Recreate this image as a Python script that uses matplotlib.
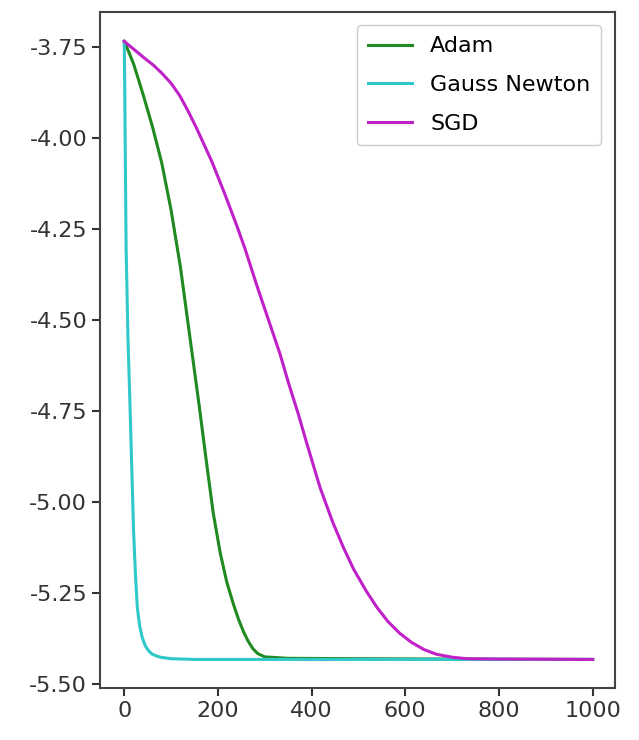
import matplotlib
matplotlib.use("Agg")
import matplotlib.pyplot as plt

# Data
adam_x = [0, 10, 20, 30, 41, 60, 80, 100, 120, 140, 160, 175, 190, 205, 219, 233, 244, 255, 265, 275,
          285, 300, 350, 500, 700, 1000]
adam_y = [-3.735, -3.765, -3.797, -3.838, -3.884, -3.968, -4.068, -4.198, -4.355, -4.545, -4.735,
          -4.885, -5.03, -5.14, -5.22, -5.28, -5.322, -5.357, -5.383, -5.403, -5.416, -5.425, -5.429,
          -5.430, -5.431, -5.432]

gn_x = [0, 1, 2, 3, 4, 8, 12, 16, 20, 24, 28, 33, 38, 45, 52, 60, 77, 100, 150, 400, 700, 1000]
gn_y = [-3.735, -3.85, -4.0, -4.15, -4.30, -4.55, -4.72, -4.90, -5.08, -5.20, -5.29, -5.34, -5.37,
        -5.395, -5.408, -5.418, -5.426, -5.430, -5.432, -5.432, -5.432, -5.432]

sgd_x = [0, 15, 30, 45, 62, 80, 100, 119, 137, 155, 187, 215, 240, 258, 283, 308, 333, 350, 372, 390,
         418, 445, 468, 490, 517, 540, 563, 588, 613, 640, 667, 700, 731, 800, 1000]
sgd_y = [-3.735, -3.751, -3.767, -3.783, -3.800, -3.822, -3.850, -3.885, -3.928, -3.975, -4.065,
         -4.155, -4.24, -4.305, -4.405, -4.50, -4.595, -4.67, -4.76, -4.84, -4.96, -5.055, -5.125,
         -5.185, -5.245, -5.29, -5.328, -5.360, -5.385, -5.405, -5.418, -5.426, -5.430, -5.431, -5.432]

series_labels = ["Adam", "Gauss Newton", "SGD"]
y_ticks = [-3.75, -4.00, -4.25, -4.50, -4.75, -5.00, -5.25, -5.50]
x_ticks = [0, 200, 400, 600, 800, 1000]

fig = plt.figure(figsize=(6.39, 7.40), dpi=100)
ax = fig.add_axes([0.157, 0.070, 0.805, 0.914])

ax.plot(adam_x, adam_y, color="#1f8a1f", lw=2.2, label=series_labels[0], solid_joinstyle="round")
ax.plot(gn_x, gn_y, color="#30c8c8", lw=2.2, label=series_labels[1], solid_joinstyle="round")
ax.plot(sgd_x, sgd_y, color="#c020c8", lw=2.2, label=series_labels[2], solid_joinstyle="round")

ax.set_xlim(-51, 1047)
ax.set_ylim(-5.511, -3.654)
ax.set_yticks(y_ticks)
ax.set_yticklabels([f"{v:.2f}" for v in y_ticks])
ax.set_xticks(x_ticks)
ax.tick_params(labelsize=16, colors="#333333", length=6, width=1.5)
for s in ax.spines.values():
    s.set_color("#444444")
    s.set_linewidth(1.5)

leg = ax.legend(loc="upper right", fontsize=16, handlelength=2.0, borderpad=0.5,
                labelspacing=0.85, framealpha=1.0, borderaxespad=0.6)
leg.get_frame().set_edgecolor("#cccccc")

fig.savefig("out.png", dpi=100)
